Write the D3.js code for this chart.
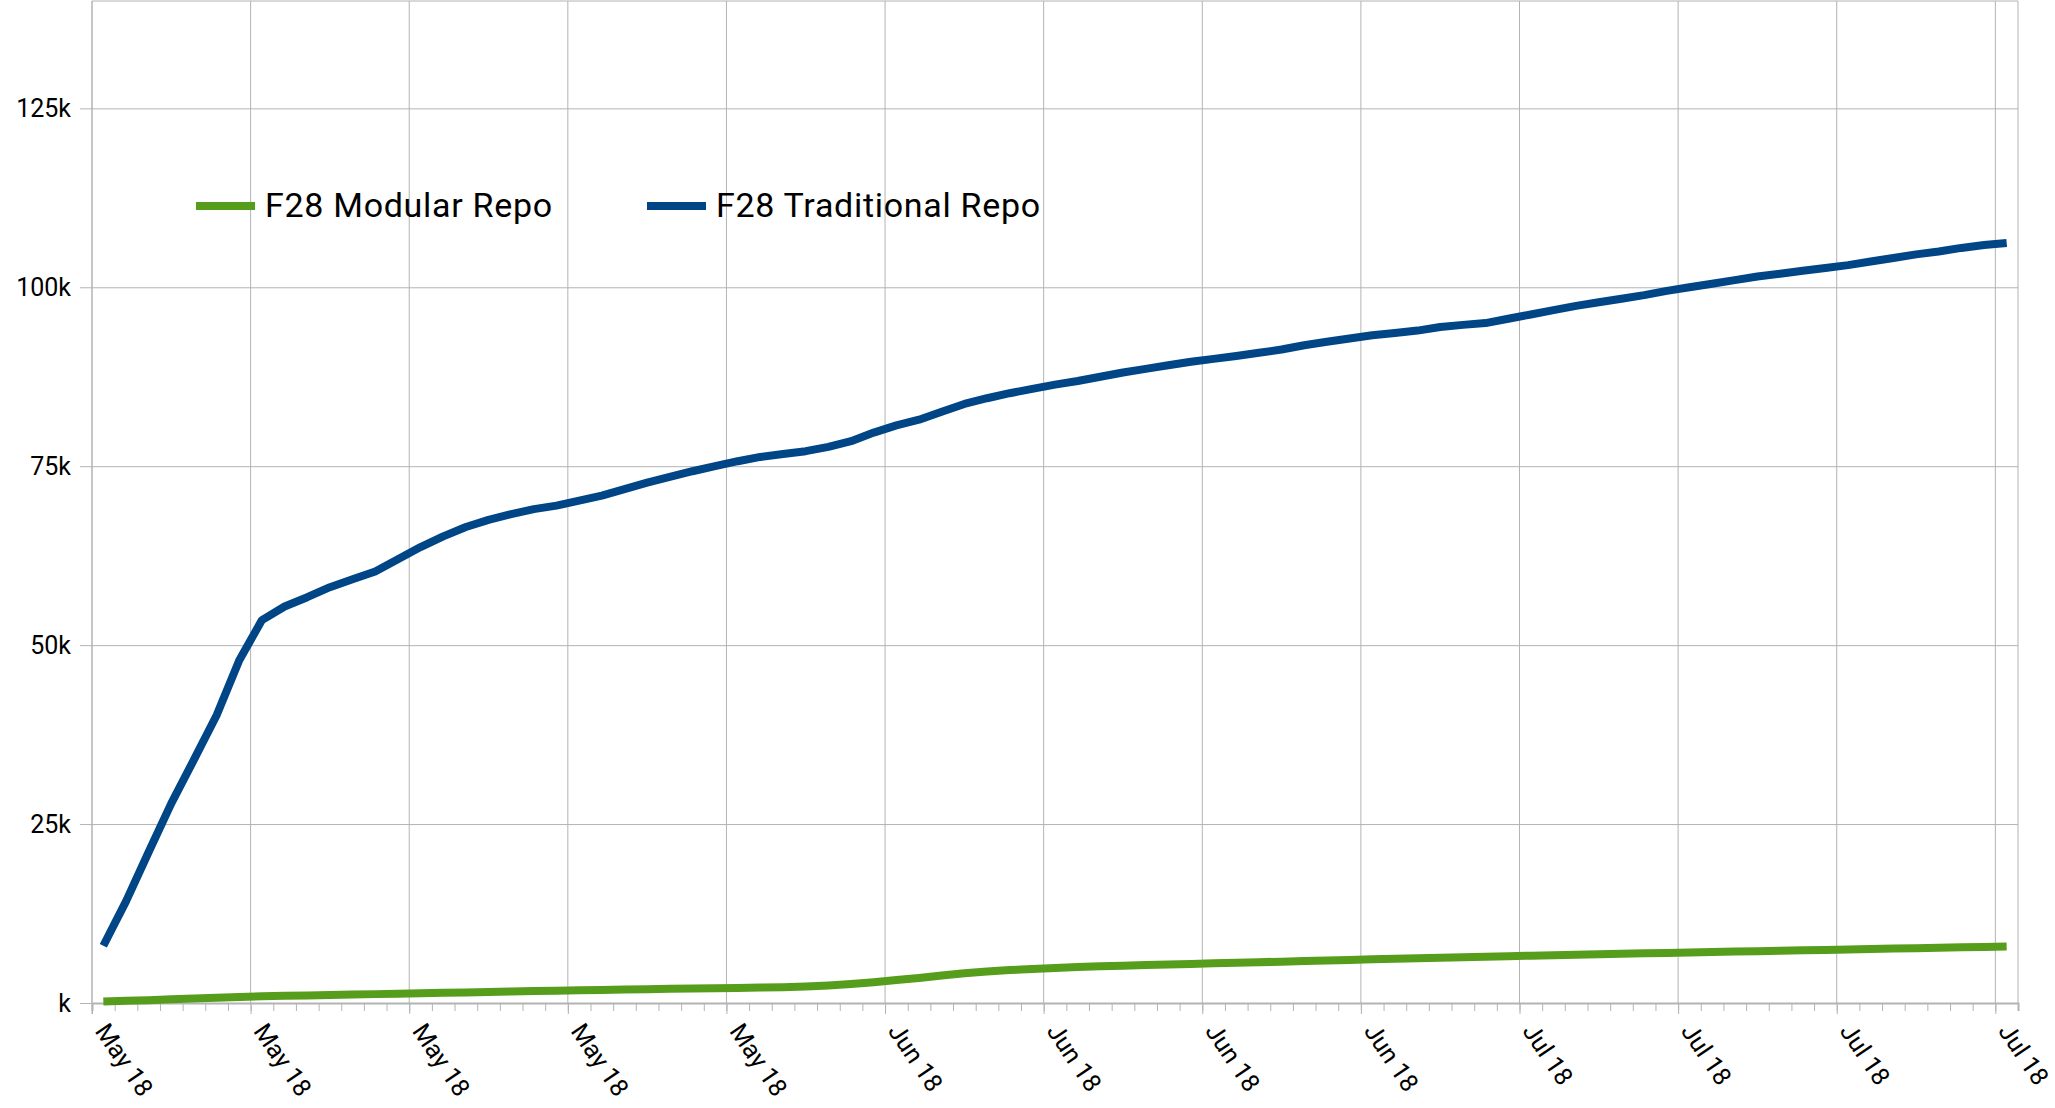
<!DOCTYPE html>
<html>
<head>
<meta charset="utf-8">
<script src="https://cdn.jsdelivr.net/npm/d3@7"></script>
<style>
    body { margin: 0; background: #fff; }
    svg text { font-family: Roboto, "Open Sans", sans-serif; fill: #000; }
</style>
</head>
<body>
<div id="chart"></div>
<script>
// series names + colours
const seriesNames = ['F28 Modular Repo', 'F28 Traditional Repo'];
const seriesColors = ['#579d1c', '#004586'];

// one value per day, starting 2018-05-01
const firstDay = '2018-05-01';
const axisEnd = '2018-07-25';

const modular = [
    200, 300, 400, 510, 620, 740, 850, 930, 1000, 1060,
    1120, 1180, 1240, 1300, 1360, 1420, 1480, 1540, 1600, 1660,
    1720, 1780, 1830, 1880, 1930, 1980, 2030, 2070, 2110, 2150,
    2200, 2300, 2450, 2650, 2900, 3200, 3500, 3850, 4150, 4400,
    4600, 4760, 4900, 5020, 5120, 5210, 5300, 5380, 5460, 5540,
    5620, 5700, 5780, 5860, 5940, 6020, 6100, 6180, 6260, 6330,
    6400, 6470, 6540, 6610, 6680, 6750, 6820, 6880, 6940, 7000,
    7060, 7120, 7180, 7240, 7300, 7360, 7420, 7480, 7540, 7600,
    7660, 7720, 7780, 7840, 7900
];

const traditional = [
    8000, 14200, 21100, 27900, 34000, 40200, 47900, 53500, 55400, 56700,
    58100, 59200, 60300, 62000, 63700, 65200, 66500, 67500, 68300, 69000,
    69500, 70200, 70900, 71800, 72700, 73500, 74300, 75000, 75700, 76300,
    76700, 77100, 77700, 78500, 79700, 80700, 81500, 82600, 83700, 84500,
    85200, 85800, 86400, 86900, 87500, 88100, 88600, 89100, 89600, 90000,
    90400, 90850, 91300, 91900, 92400, 92850, 93300, 93600, 93950, 94450,
    94750, 95000, 95600, 96200, 96800, 97400, 97900, 98400, 98900, 99500,
    100000, 100500, 101000, 101500, 101900, 102300, 102700, 103100, 103600, 104100,
    104600, 105000, 105500, 105900, 106200
];

const yTicks = [0, 25000, 50000, 75000, 100000, 125000];
const yMax = 140000;

function drawChart() {
    let dimensions = {
        width: 2055,
        height: 1108,
        margin: { top: 1, right: 37, bottom: 105, left: 92 }
    };
    dimensions.boundW = dimensions.width - dimensions.margin.left - dimensions.margin.right;
    dimensions.boundH = dimensions.height - dimensions.margin.top - dimensions.margin.bottom;

    const parse = d3.utcParse('%Y-%m-%d');
    const start = parse(firstDay);
    const end = parse(axisEnd);
    const days = d3.utcDay.range(start, d3.utcDay.offset(start, traditional.length));

    const svg = d3.select('#chart').append('svg')
        .attr('width', dimensions.width)
        .attr('height', dimensions.height);

    const bounds = svg.append('g')
        .attr('transform', `translate(${dimensions.margin.left},${dimensions.margin.top})`);

    // scales
    const xScale = d3.scaleUtc()
        .domain([start, end])
        .range([0, dimensions.boundW]);

    const yScale = d3.scaleLinear()
        .domain([0, yMax])
        .range([dimensions.boundH, 0]);

    // points sit in the middle of each day
    const xPos = d => xScale(d3.utcHour.offset(d, 12));

    // horizontal grid + y labels
    const yAxisGenerator = d3.axisLeft(yScale)
        .tickValues(yTicks)
        .tickSize(-dimensions.boundW - 12)
        .tickPadding(9)
        .tickFormat(v => v === 0 ? 'k' : (v / 1000) + 'k');

    const yAxis = bounds.append('g')
        .attr('transform', `translate(-12,0)`)
        .call(yAxisGenerator);
    yAxis.select('.domain').remove();
    yAxis.selectAll('line').attr('stroke', '#b3b3b3').attr('transform', 'translate(12,0)')
        .attr('x1', -12).attr('x2', dimensions.boundW);
    yAxis.selectAll('text')
        .attr('x', -9)
        .attr('dy', '0.32em')
        .style('font-size', '25px');

    // vertical grid on weekly ticks
    const weekTicks = d3.utcDay.range(start, end, 7);
    bounds.append('g')
        .selectAll('line')
        .data(weekTicks)
        .join('line')
        .attr('x1', d => xScale(d)).attr('x2', d => xScale(d))
        .attr('y1', 0).attr('y2', dimensions.boundH)
        .attr('stroke', '#b3b3b3');

    // plot border (top / right)
    bounds.append('line')
        .attr('x1', 0).attr('x2', dimensions.boundW)
        .attr('y1', 0).attr('y2', 0)
        .attr('stroke', '#b3b3b3');
    bounds.append('line')
        .attr('x1', dimensions.boundW).attr('x2', dimensions.boundW)
        .attr('y1', 0).attr('y2', dimensions.boundH)
        .attr('stroke', '#b3b3b3');

    // minor (daily) ticks
    const minorAxis = d3.axisBottom(xScale)
        .tickValues(d3.utcDay.range(start, d3.utcDay.offset(end, 1)))
        .tickSize(8)
        .tickFormat('');
    const minor = bounds.append('g')
        .attr('transform', `translate(0,${dimensions.boundH})`)
        .call(minorAxis);
    minor.selectAll('line').attr('stroke', '#b3b3b3');
    minor.select('.domain').attr('stroke', '#b3b3b3').attr('stroke-width', 2);

    // major (weekly) ticks + labels
    const xAxisGenerator = d3.axisBottom(xScale)
        .tickValues(weekTicks)
        .tickSize(11)
        .tickFormat(d3.utcFormat('%b %y'));
    const xAxis = bounds.append('g')
        .attr('transform', `translate(0,${dimensions.boundH})`)
        .call(xAxisGenerator);
    xAxis.select('.domain').remove();
    xAxis.selectAll('line').attr('stroke', '#b3b3b3');
    xAxis.selectAll('text')
        .attr('y', 0)
        .attr('dy', '0.35em')
        .attr('text-anchor', 'start')
        .attr('transform', 'translate(9,23) rotate(56)')
        .style('font-size', '25px');

    // left axis line
    bounds.append('line')
        .attr('x1', 0).attr('x2', 0)
        .attr('y1', 0).attr('y2', dimensions.boundH + 11)
        .attr('stroke', '#b3b3b3');

    // lines
    const lineGenerator = (values) => d3.line()
        .x((d, i) => xPos(days[i]))
        .y(d => yScale(d))(values);

    [modular, traditional].forEach((values, i) => {
        bounds.append('path')
            .attr('d', lineGenerator(values))
            .attr('fill', 'none')
            .attr('stroke', seriesColors[i])
            .attr('stroke-width', 8)
            .attr('stroke-linejoin', 'round');
    });

    // legend
    const legendX = [196, 647];
    const legend = svg.append('g');
    seriesNames.forEach((name, i) => {
        legend.append('line')
            .attr('x1', legendX[i]).attr('x2', legendX[i] + 59)
            .attr('y1', 206).attr('y2', 206)
            .attr('stroke', seriesColors[i])
            .attr('stroke-width', 8);
        legend.append('text')
            .attr('x', legendX[i] + 69)
            .attr('y', 217)
            .text(name)
            .style('font-size', '34px')
            .style('letter-spacing', '0.7px');
    });
}

drawChart();
</script>
</body>
</html>
